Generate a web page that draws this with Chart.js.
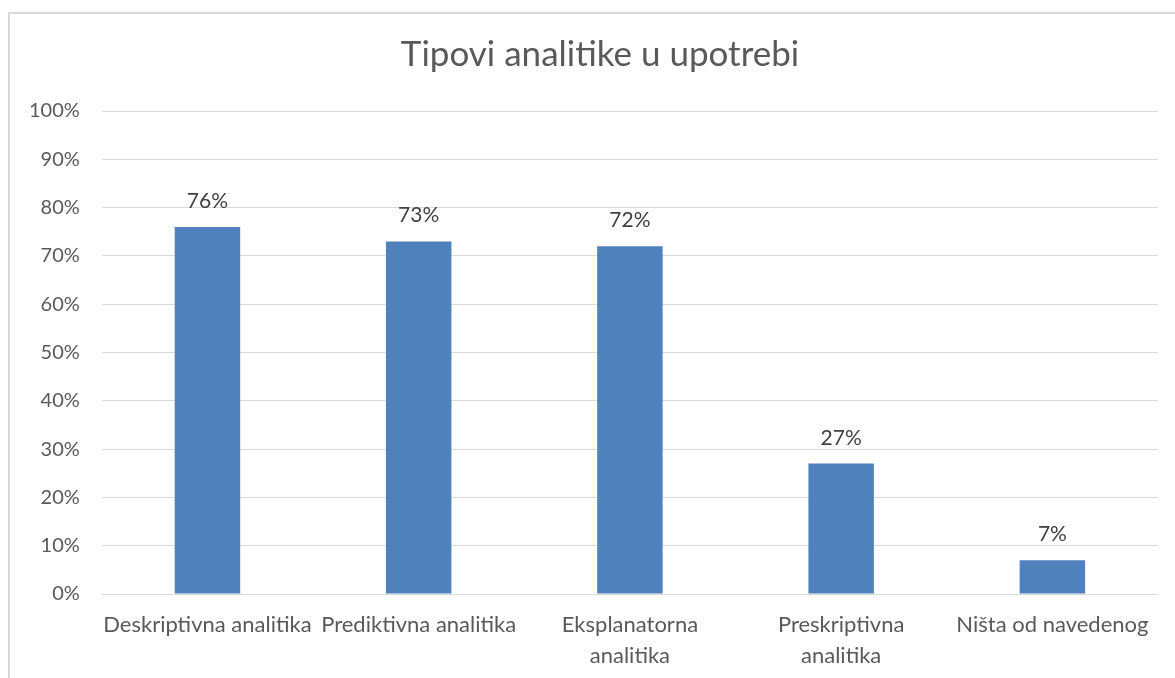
<!DOCTYPE html>
<html>
<head>
<meta charset="utf-8">
<script src="https://cdn.jsdelivr.net/npm/chart.js@4.4.1/dist/chart.umd.min.js"></script>
<style>
  html, body { margin: 0; padding: 0; background: #fff; overflow: hidden; }
  #frame { position: absolute; left: 8px; top: 12px; width: 1200px; height: 700px;
           border: 2px solid #d9d9d9; box-sizing: border-box; }
  #wrap { position: absolute; left: 0; top: 0; width: 1175px; height: 678px; }
</style>
</head>
<body>
<div id="frame"></div>
<div id="wrap"><canvas id="c" width="1175" height="678"></canvas></div>
<script>
// categories and values (percent)
const categories = [
  'Deskriptivna analitika',
  'Prediktivna analitika',
  ['Eksplanatorna', 'analitika'],
  ['Preskriptivna', 'analitika'],
  'Ništa od navedenog'
];
const values = [76, 73, 72, 27, 7];
const title = 'Tipovi analitike u upotrebi';

const FONT = 'Lato, "Noto Sans", sans-serif';

// value labels above bars + title centred on the outer chart frame
const barLabels = {
  id: 'barLabels',
  afterDatasetsDraw(chart) {
    const ctx = chart.ctx;
    const meta = chart.getDatasetMeta(0);
    ctx.save();
    ctx.fillStyle = '#404040';
    ctx.font = '21px ' + FONT;
    ctx.textAlign = 'center';
    ctx.textBaseline = 'alphabetic';
    meta.data.forEach((bar, i) => {
      ctx.fillText(values[i] + '%', bar.x, bar.y - 19);
    });
    ctx.fillStyle = '#595959';
    ctx.font = '35px ' + FONT;
    ctx.fillText(title, 600, 66);
    ctx.restore();
  }
};

new Chart(document.getElementById('c'), {
  type: 'bar',
  data: {
    labels: categories,
    datasets: [{
      data: values,
      backgroundColor: '#4f81bd',
      borderWidth: 0,
      categoryPercentage: 0.31,
      barPercentage: 1.0
    }]
  },
  options: {
    responsive: false,
    animation: false,
    layout: { padding: { left: 7, right: 17, top: 111, bottom: 6 } },
    plugins: {
      legend: { display: false },
      tooltip: { enabled: false },
      title: { display: false }
    },
    scales: {
      x: {
        grid: { display: false, drawTicks: false },
        border: { display: false },
        ticks: {
          color: '#595959',
          font: { family: FONT, size: 22, lineHeight: 1.4 },
          maxRotation: 0,
          autoSkip: false,
          padding: 16
        },
        // first/last labels fit inside their slots, no extra side padding
        afterFit: s => { s.paddingLeft = 0; s.paddingRight = 0; s.height = 78; }
      },
      y: {
        min: 0,
        max: 100,
        grid: { color: '#d9d9d9', lineWidth: 1, drawTicks: false },
        border: { display: false },
        ticks: {
          stepSize: 10,
          color: '#595959',
          font: { family: FONT, size: 20 },
          padding: 22,
          callback: v => v + '%'
        }
      }
    }
  },
  plugins: [barLabels]
});
</script>
</body>
</html>
